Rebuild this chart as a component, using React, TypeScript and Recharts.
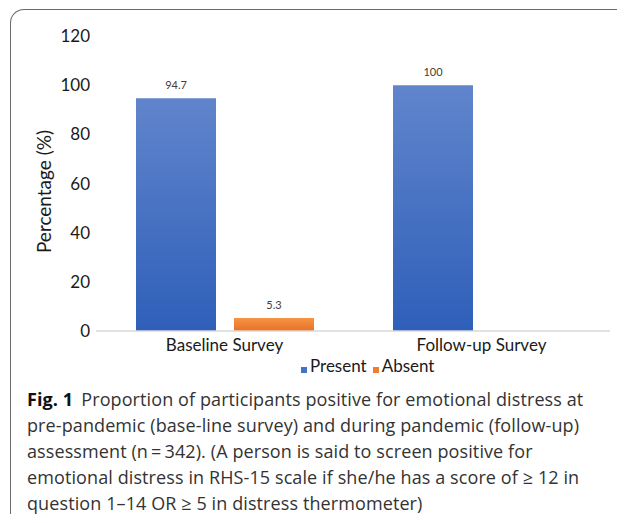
import { BarChart, Bar, XAxis, YAxis, LabelList } from 'recharts'

const categories = ['Baseline Survey', 'Follow-up Survey']
const presentValues = [94.7, 100]
const absentValues: (number | null)[] = [5.3, null]
const yTicks = [0, 20, 40, 60, 80, 100, 120]

const series = [
  { key: 'present', name: 'Present', top: '#6085cc', bottom: '#2f5fb9', swatch: '#4472c4' },
  { key: 'absent', name: 'Absent', top: '#f59444', bottom: '#ea7125', swatch: '#ed7d31' },
]

const captionLines = [
  'Proportion of participants positive for emotional distress at',
  'pre-pandemic (base-line survey) and during pandemic (follow-up)',
  'assessment (n\u2009=\u2009342). (A person is said to screen positive for',
  'emotional distress in RHS-15 scale if she/he has a score of \u2265 12 in',
  'question 1\u201314 OR \u2265 5 in distress thermometer)',
]

const chartData = categories.map((name, i) => ({
  name,
  present: presentValues[i],
  absent: absentValues[i],
}))

const font = 'Lato, "Liberation Sans", sans-serif'

export default function App() {
  return (
    <div
      style={{
        position: 'relative',
        top: 1,
        marginLeft: 2,
        marginBottom: -8,
        width: 615,
        height: 514,
        boxSizing: 'border-box',
        border: '1.5px solid #6b6b6b',
        borderRight: 'none',
        borderRadius: '14px 0 0 10px',
        overflow: 'hidden',
        background: '#fff',
      }}
    >
      <div style={{ position: 'absolute', left: 0, top: 0 }}>
        <BarChart
          width={612}
          height={360}
          data={chartData}
          margin={{ top: 26, right: 13, left: 25, bottom: 0 }}
          barSize={80}
          barGap={18}
        >
          <defs>
            {series.map((s) => (
              <linearGradient key={s.key} id={`grad-${s.key}`} x1="0" y1="0" x2="0" y2="1">
                <stop offset="0%" stopColor={s.top} />
                <stop offset="100%" stopColor={s.bottom} />
              </linearGradient>
            ))}
          </defs>
          <XAxis
            dataKey="name"
            axisLine={{ stroke: '#d9d9d9', strokeWidth: 1.5 }}
            tickLine={false}
            tickSize={8}
            tickMargin={0}
            height={39}
            tick={{ fill: '#1a1a1a', fontSize: 17, fontFamily: font }}
          />
          <YAxis
            domain={[0, 120]}
            ticks={yTicks}
            axisLine={false}
            tickLine={false}
            tickSize={6}
            tickMargin={0}
            width={60}
            tick={{ fill: '#1a1a1a', fontSize: 17, fontFamily: font }}
            label={{
              value: 'Percentage (%)',
              angle: -90,
              position: 'insideLeft',
              offset: 8,
              dy: 8,
              style: { textAnchor: 'middle', fill: '#1a1a1a', fontSize: 19, fontFamily: font },
            }}
          />
          {series.map((s) => (
            <Bar key={s.key} dataKey={s.key} name={s.name} fill={`url(#grad-${s.key})`} isAnimationActive={false}>
              <LabelList
                dataKey={s.key}
                position="top"
                offset={9}
                style={{ fill: '#404040', fontSize: 11, fontFamily: font }}
              />
            </Bar>
          ))}
        </BarChart>
      </div>
      <div
        style={{
          position: 'absolute',
          left: 290,
          top: 346,
          display: 'flex',
          alignItems: 'center',
          fontFamily: font,
          fontSize: 17,
          color: '#1a1a1a',
          whiteSpace: 'nowrap',
          lineHeight: '20px',
        }}
      >
        {series.map((s) => (
          <span key={s.key} style={{ display: 'flex', alignItems: 'center', marginRight: 6 }}>
            <span style={{ width: 6, height: 6, background: s.swatch, marginTop: 7, marginRight: 3 }} />
            {s.name}
          </span>
        ))}
      </div>
      <div
        style={{
          position: 'absolute',
          left: 16,
          top: 376,
          fontFamily: '"Open Sans", Lato, sans-serif',
          fontSize: 18,
          lineHeight: '26px',
          color: '#333',
          whiteSpace: 'nowrap',
          letterSpacing: 0.1,
        }}
      >
        {captionLines.map((line, i) => (
          <div key={i}>
            {i === 0 && <b style={{ color: '#111', marginRight: 8 }}>Fig. 1</b>}
            {line}
          </div>
        ))}
      </div>
    </div>
  )
}
